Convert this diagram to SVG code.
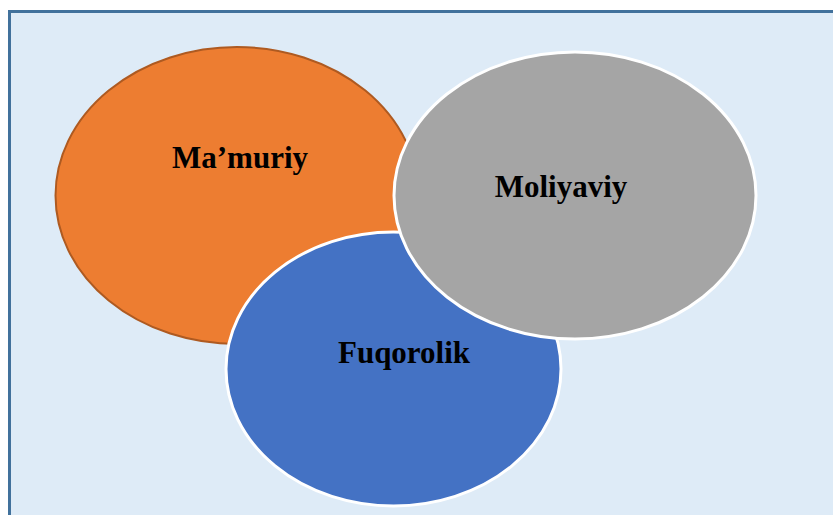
<svg xmlns="http://www.w3.org/2000/svg" width="833" height="515" viewBox="0 0 833 515">
<style>
.lbl{font-family:"Liberation Serif","Times New Roman",serif;font-weight:bold;font-size:31px;fill:#000;text-anchor:middle}
.w{stroke:#FFFFFF;stroke-width:3}
</style>
<rect x="0" y="0" width="833" height="515" fill="#FFFFFF"/>
<rect id="frame" x="9.5" y="11.5" width="900" height="600" fill="#DEEBF7" stroke="#41719C" stroke-width="3"/>
<g id="mamuriy">
<ellipse cx="237" cy="195.5" rx="181.5" ry="148.5" fill="#ED7D31" stroke="#AE5A21" stroke-width="2"/>
<text class="lbl" x="240" y="168">Ma’muriy</text>
</g>
<g id="fuqorolik">
<ellipse class="w" cx="393.5" cy="369" rx="167.5" ry="137" fill="#4472C4"/>
<text class="lbl" x="404" y="363">Fuqorolik</text>
</g>
<g id="moliyaviy">
<ellipse class="w" cx="575" cy="195.5" rx="181" ry="143.5" fill="#A5A5A5"/>
<text class="lbl" x="561" y="197">Moliyaviy</text>
</g>
<g id="connectors"/>
</svg>
